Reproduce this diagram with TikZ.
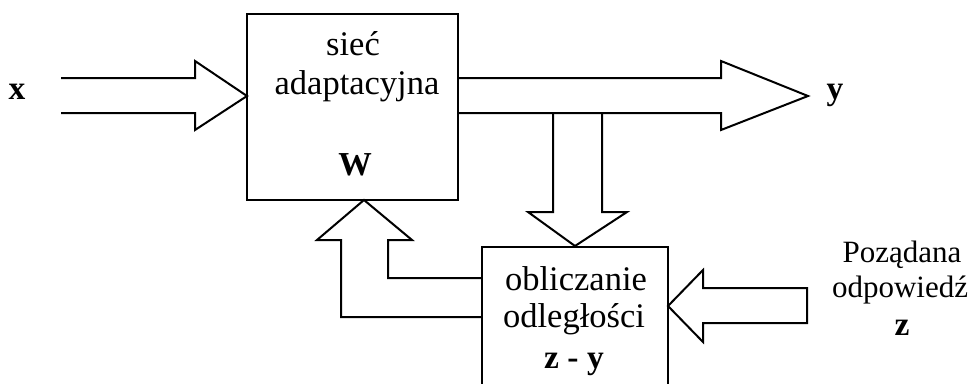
\documentclass[tikz,border=0pt]{standalone}
\usepackage{fontspec}
\setmainfont{Liberation Serif}
\begin{document}
\begin{tikzpicture}[x=1pt,y=-1pt,
  box/.style={draw, line width=2pt, inner sep=0pt},
  blockarrow/.style={draw, line width=2pt, line join=miter},
  txt/.style={font=\fontsize{34.5}{40}\selectfont, anchor=base, inner sep=0pt},
  rtxt/.style={font=\fontsize{31}{36}\selectfont, anchor=base, inner sep=0pt},
  btxt/.style={font=\fontsize{33.5}{40}\selectfont\bfseries, anchor=base, inner sep=0pt}]
\clip (0,0) rectangle (971,383);
% blocks
\node[box, minimum width=211pt, minimum height=186pt] (net) at (352.5,107) {};
\node[box, minimum width=186pt, minimum height=200pt] (dist) at (575,347) {};
% named points
\coordinate (xtip) at (247,96);
\coordinate (ytip) at (808,96);
\coordinate (fbtip) at (364,200);
\coordinate (ztip) at (668,306);
% input arrow x
\draw[blockarrow] (61,78) -- (195,78) -- (195,61) -- (xtip) -- (195,130) -- (195,113) -- (61,113);
% output arrow y
\draw[blockarrow] (458,78) -- (721,78) -- (721,61) -- (ytip) -- (721,130) -- (721,113) -- (458,113);
% downward arrow to distance block
\draw[blockarrow] (553,113) -- (553,212) -- (528,212) -- (dist.north) -- (627,212) -- (602,212) -- (602,113);
% feedback arrow to network
\draw[blockarrow] (482,278) -- (388,278) -- (388,240) -- (412,240) -- (fbtip) -- (317,240) -- (341,240) -- (341,317) -- (482,317);
% desired response arrow
\draw[blockarrow] (ztip) -- (703,270) -- (703,288) -- (807,288) -- (807,323) -- (703,323) -- (703,342) -- cycle;
% texts
\node[txt] (t1) at (353,55) {sieć};
\node[txt] (t2) at (357,94) {adaptacyjna};
\node[btxt] (t3) at (355,175) {W};
\node[txt] (t4) at (576,290) {obliczanie};
\node[txt] (t5) at (574,327) {odległości};
\node[btxt] (t6) at (574,368) {z - y};
\node[rtxt] (t7) at (902,262) {Poządana};
\node[rtxt] (t8) at (900,297) {odpowiedź};
\node[btxt] (t9) at (902,335) {z};
\node[btxt] (lx) at (17,99) {x};
\node[btxt] (ly) at (835,99) {y};
\end{tikzpicture}
\end{document}
